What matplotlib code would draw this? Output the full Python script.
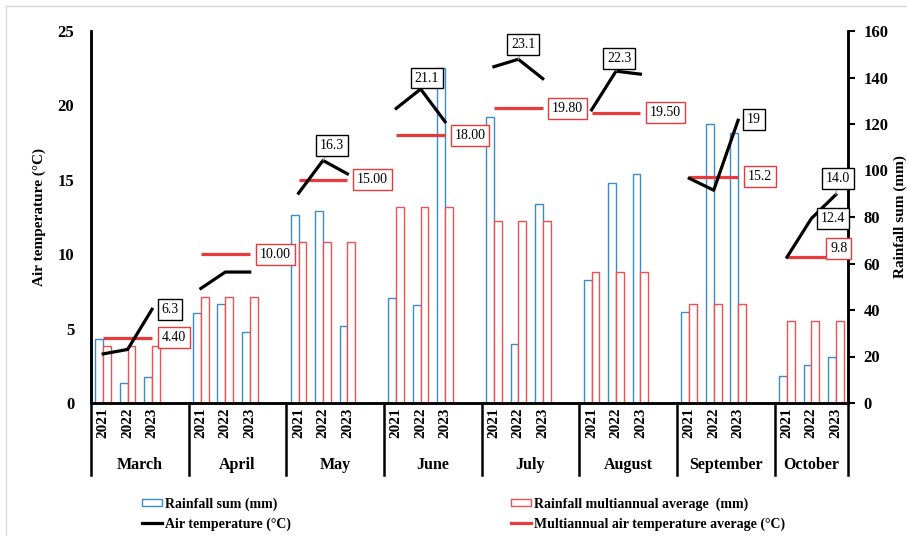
import matplotlib
matplotlib.use("Agg")
import matplotlib.pyplot as plt
from matplotlib.lines import Line2D
from matplotlib.patches import Patch
import numpy as np

# ====== data ======
months = ["March", "April", "May", "June", "July", "August", "September", "October"]
years = ["2021", "2022", "2023"]

rain_sum = [
    [27.5, 8.5, 11.0],
    [38.6, 42.7, 30.7],
    [80.8, 82.7, 33.2],
    [45.0, 42.0, 144.3],
    [123.1, 25.4, 85.7],
    [52.9, 94.6, 98.5],
    [39.3, 120.0, 116.2],
    [11.6, 16.5, 19.9],
]
rain_avg = [24.4, 45.6, 69.4, 84.4, 78.1, 56.2, 42.4, 35.4]

air_temp = [
    [3.3, 3.6, 6.3],
    [7.7, 8.8, 8.8],
    [14.1, 16.3, 15.4],
    [19.8, 21.1, 18.9],
    [22.6, 23.1, 21.8],
    [19.7, 22.3, 22.1],
    [15.1, 14.3, 19.0],
    [9.8, 12.4, 14.0],
]
temp_avg = [4.4, 10.0, 15.0, 18.0, 19.8, 19.5, 15.2, 9.8]

# labels shown on the chart (month index, year index, text)
temp_labels = [
    (0, 2, "6.3"), (2, 1, "16.3"), (3, 1, "21.1"), (4, 1, "23.1"),
    (5, 1, "22.3"), (6, 2, "19"), (7, 1, "12.4"), (7, 2, "14.0"),
]
avg_labels = ["4.40", "10.00", "15.00", "18.00", "19.80", "19.50", "15.2", "9.8"]

# label offsets in pixels (dx right, dy up) -- layout only
temp_off = [(18, 0), (9, 15), (6, 11), (5, 15), (3, 13), (16, 1), (22, 0), (2, 16)]
avg_off = [(22, 0), (26, 0), (25, 0), (25, 0), (25, 0), (25, 0), (22, 0), (3, 9)]

BLUE = "#3a8ad0"
RED_BAR = "#f05050"
RED_LINE = "#e83a3a"

plt.rcParams["font.family"] = ["Liberation Serif", "DejaVu Serif"]

W, H = 907, 536
fig = plt.figure(figsize=(W / 100, H / 100), dpi=100)
ax = fig.add_axes([91 / W, 1 - 403 / H, 757 / W, 372 / H])
ax2 = ax.twinx()

# 4 slots per month (3 years + blank), last month without blank
pos = [[4 * m + k for k in range(3)] for m in range(len(months))]
bw = 0.32

for m in range(len(months)):
    x = np.array(pos[m])
    ax2.bar(x - bw / 2, rain_sum[m], width=bw, facecolor="white", edgecolor=BLUE, lw=1.0, zorder=2)
    ax2.bar(x + bw / 2, [rain_avg[m]] * 3, width=bw, facecolor="white", edgecolor=RED_BAR, lw=1.0, zorder=2)
    ax.plot([x[0], x[-1]], [temp_avg[m], temp_avg[m]], color=RED_LINE, lw=2.3, solid_capstyle="butt", zorder=3)
    ax.plot(x, air_temp[m], color="black", lw=2.3, zorder=4)

px = 0.72  # points per pixel
for (m, k, txt), (dx, dy) in zip(temp_labels, temp_off):
    ax.annotate(txt, xy=(pos[m][k], air_temp[m][k]), xytext=(dx * px, dy * px),
                textcoords="offset points", ha="center", va="center", fontsize=10, zorder=6,
                bbox=dict(boxstyle="square,pad=0.28", fc="white", ec="black", lw=1.0),
                arrowprops=dict(arrowstyle="-", color="#a6a6a6", lw=0.8, shrinkA=0, shrinkB=0) if dy > 12 else None)
for m, (txt, (dx, dy)) in enumerate(zip(avg_labels, avg_off)):
    ax.annotate(txt, xy=(pos[m][2], temp_avg[m]), xytext=(dx * px, dy * px),
                textcoords="offset points", ha="center", va="center", fontsize=10, zorder=5,
                bbox=dict(boxstyle="square,pad=0.28", fc="white", ec=RED_LINE, lw=1.0))

# layering: temperature axis above the bars
ax.set_zorder(ax2.get_zorder() + 1)
ax.patch.set_visible(False)

ax.set_xlim(-0.5, 4 * len(months) - 1.5)
ax.set_ylim(0, 25)
ax2.set_ylim(0, 160)
ax.set_yticks(range(0, 26, 5))
ax2.set_yticks(range(0, 161, 20))

ax.set_xticks([p for g in pos for p in g])
ax.set_xticklabels(years * len(months), rotation=90, fontsize=11, fontweight="bold")
ax.tick_params(axis="x", length=0, pad=3)
ax.tick_params(axis="y", length=0, labelsize=12, pad=12)
ax2.tick_params(axis="y", direction="out", length=5, width=1.5, labelsize=12, pad=6)
for lab in ax.get_yticklabels() + ax2.get_yticklabels():
    lab.set_fontweight("bold")

for a in (ax, ax2):
    a.spines["top"].set_visible(False)
    for s in ("left", "right", "bottom"):
        a.spines[s].set_linewidth(1.8)
        a.spines[s].set_color("black")

ax.set_ylabel("Air temperature (°C)", fontsize=11, fontweight="bold", labelpad=8)
ax2.set_ylabel("Rainfall sum (mm)", fontsize=11, fontweight="bold", labelpad=4)

# month labels and separators under the axis
trans = ax.get_xaxis_transform()
seps = [-0.5] + [4 * m + 3.5 for m in range(len(months) - 1)] + [4 * len(months) - 1.5]
for s in seps:
    ax.plot([s, s], [0, -0.194], transform=trans, color="black", lw=1.8, clip_on=False)
for m, name in enumerate(months):
    ax.text((seps[m] + seps[m + 1]) / 2, -0.168, name, transform=trans, ha="center", va="center",
            fontsize=11.5, fontweight="bold")

# legend
handles = [
    Patch(facecolor="white", edgecolor=BLUE, lw=1.0, label="Rainfall sum (mm)"),
    Line2D([], [], color="black", lw=2.3, label="Air temperature (°C)"),
    Patch(facecolor="white", edgecolor=RED_BAR, lw=1.0, label="Rainfall multiannual average  (mm)"),
    Line2D([], [], color=RED_LINE, lw=2.3, label="Multiannual air temperature average (°C)"),
]
fig.legend(handles=handles, ncol=2, loc="center left", bbox_to_anchor=(129 / W, 1 - 514 / H),
           frameon=False, prop={"weight": "bold", "size": 10}, handlelength=1.5, handletextpad=0.2,
           columnspacing=15.8, labelspacing=0.45, handleheight=0.36)

# light frame of the original picture (top and left edges)
fig.add_artist(Line2D([6 / W, 1], [1 - 6 / H, 1 - 6 / H], transform=fig.transFigure, color="#d9d9d9", lw=1))
fig.add_artist(Line2D([6 / W, 6 / W], [0, 1 - 6 / H], transform=fig.transFigure, color="#d9d9d9", lw=1))

fig.savefig("out.png", dpi=100)
